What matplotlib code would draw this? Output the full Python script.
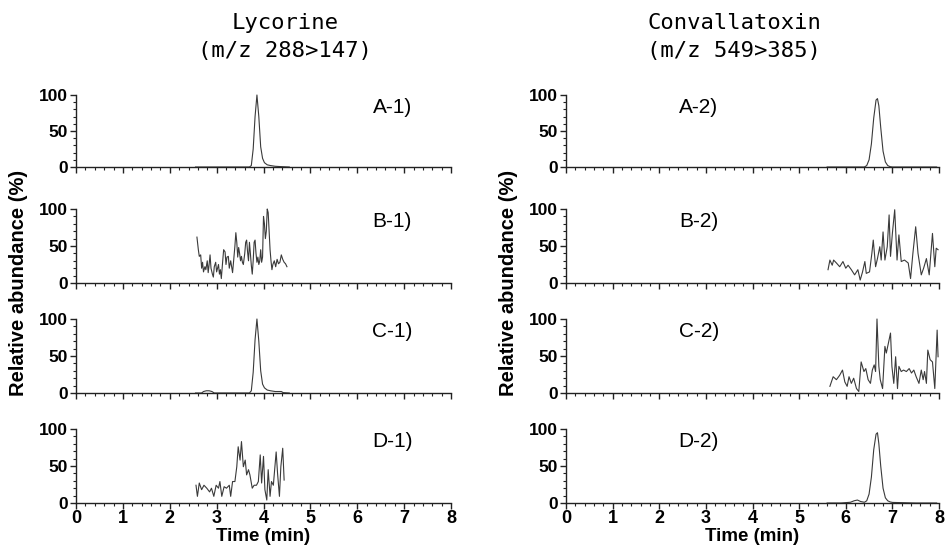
import matplotlib
matplotlib.use("Agg")
import matplotlib.pyplot as plt
from matplotlib.ticker import MultipleLocator

# ---------------- data ----------------
titles = ["Lycorine\n(m/z 288>147)", "Convallatoxin\n(m/z 549>385)"]
panel_labels = [["A-1)", "B-1)", "C-1)", "D-1)"], ["A-2)", "B-2)", "C-2)", "D-2)"]]
x_ticks = [0, 1, 2, 3, 4, 5, 6, 7, 8]
y_ticks = [0, 50, 100]

A1_t = [2.55, 3.20, 3.70, 3.74, 3.78, 3.82, 3.86, 3.90, 3.94, 3.98, 4.02, 4.08, 4.15, 4.25, 4.38, 4.55]
A1_y = [0, 0, 0, 2, 25, 70, 100, 70, 28, 12, 6, 3, 2, 1, 0.5, 0]

B1_t = [2.58, 2.61, 2.63, 2.66, 2.68, 2.70, 2.72, 2.75, 2.77, 2.80, 2.82, 2.84, 2.86, 2.88, 2.91,
        2.93, 2.95, 2.98, 3.00, 3.02, 3.04, 3.06, 3.08, 3.10, 3.13, 3.15, 3.18, 3.20, 3.22, 3.25,
        3.27, 3.30, 3.32, 3.34, 3.36, 3.39, 3.41, 3.43, 3.45, 3.47, 3.49, 3.51, 3.53, 3.55, 3.57,
        3.60, 3.62, 3.64, 3.66, 3.68, 3.70, 3.72, 3.74, 3.76, 3.78, 3.80, 3.82, 3.84, 3.86, 3.88,
        3.90, 3.92, 3.94, 3.96, 3.98, 4.00, 4.02, 4.04, 4.06, 4.08, 4.10, 4.12, 4.14, 4.16, 4.18,
        4.20, 4.23, 4.26, 4.29, 4.32, 4.35, 4.38, 4.41, 4.44, 4.47, 4.50]
B1_y = [62, 45, 36, 38, 20, 28, 15, 22, 18, 30, 14, 25, 38, 20, 12,
        8, 22, 28, 15, 20, 25, 12, 18, 6, 30, 45, 42, 25, 35, 36,
        20, 30, 22, 14, 28, 50, 68, 55, 35, 48, 40, 30, 36, 28, 25,
        40, 55, 58, 42, 30, 55, 40, 24, 12, 30, 55, 58, 40, 28, 35,
        25, 30, 45, 28, 35, 90, 80, 60, 70, 100, 95, 70, 45, 30, 18,
        25, 30, 22, 32, 26, 28, 38, 32, 28, 26, 22]

C1_t = [2.55, 2.68, 2.72, 2.78, 2.84, 2.90, 2.95, 3.70, 3.74, 3.78, 3.82, 3.86, 3.90, 3.94, 3.98,
        4.02, 4.08, 4.15, 4.25, 4.38, 4.42, 4.55]
C1_y = [0, 0, 2, 3, 3, 2, 0, 0, 3, 28, 72, 100, 70, 30, 12, 7, 4, 3, 2, 2, 0.5, 0]

D1_t = [2.56, 2.59, 2.63, 2.68, 2.73, 2.79, 2.85, 2.89, 2.94, 2.99, 3.04, 3.07, 3.11, 3.16, 3.21,
        3.27, 3.30, 3.34, 3.39, 3.43, 3.46, 3.50, 3.53, 3.57, 3.61, 3.64, 3.68, 3.71, 3.76, 3.80,
        3.85, 3.89, 3.93, 3.96, 4.00, 4.03, 4.07, 4.10, 4.14, 4.17, 4.21, 4.27, 4.30, 4.34, 4.37,
        4.41, 4.44]
D1_y = [24, 9, 27, 18, 24, 20, 15, 20, 9, 24, 20, 29, 9, 22, 20,
        24, 9, 29, 29, 49, 76, 58, 83, 49, 58, 38, 45, 38, 20, 24,
        24, 29, 65, 27, 63, 18, 4, 45, 9, 29, 24, 69, 40, 9, 49,
        74, 31]

A2_t = [5.60, 6.20, 6.40, 6.45, 6.50, 6.55, 6.60, 6.65, 6.68, 6.71, 6.75, 6.80, 6.85, 6.90, 6.95, 7.00, 7.50, 7.95]
A2_y = [0, 0, 0, 2, 10, 32, 68, 93, 95, 85, 55, 22, 7, 2, 0.5, 0, 0, 0]

B2_t = [5.62, 5.66, 5.71, 5.74, 5.80, 5.87, 5.94, 6.00, 6.05, 6.12, 6.19, 6.26, 6.31, 6.36, 6.41,
        6.44, 6.51, 6.56, 6.59, 6.64, 6.68, 6.73, 6.76, 6.80, 6.84, 6.89, 6.93, 6.96, 7.00, 7.05,
        7.10, 7.14, 7.19, 7.26, 7.34, 7.39, 7.44, 7.50, 7.55, 7.62, 7.67, 7.73, 7.79, 7.86, 7.91,
        7.94, 7.98]
B2_y = [18, 31, 24, 31, 27, 22, 29, 20, 24, 18, 11, 18, 4, 15, 29,
        13, 15, 40, 58, 22, 33, 49, 31, 69, 31, 49, 92, 36, 67, 99,
        31, 65, 29, 31, 27, 6, 40, 76, 40, 11, 20, 33, 11, 67, 22,
        47, 45]

C2_t = [5.66, 5.73, 5.80, 5.87, 5.93, 5.98, 6.03, 6.07, 6.12, 6.17, 6.23, 6.28, 6.33, 6.39, 6.43,
        6.48, 6.53, 6.57, 6.61, 6.64, 6.67, 6.71, 6.74, 6.79, 6.84, 6.87, 6.93, 6.96, 6.99, 7.03,
        7.07, 7.11, 7.14, 7.19, 7.24, 7.30, 7.36, 7.41, 7.46, 7.51, 7.57, 7.62, 7.66, 7.69, 7.73,
        7.76, 7.81, 7.86, 7.91, 7.96, 7.98]
C2_y = [9, 22, 18, 24, 31, 15, 9, 22, 13, 20, 6, 2, 42, 29, 33,
        18, 13, 31, 38, 29, 100, 36, 18, 6, 63, 54, 72, 81, 36, 13,
        49, 6, 36, 29, 31, 29, 33, 27, 31, 22, 13, 31, 18, 29, 13,
        58, 45, 42, 6, 85, 49]

D2_t = [5.60, 5.90, 6.10, 6.18, 6.25, 6.32, 6.40, 6.45, 6.50, 6.55, 6.60, 6.65, 6.68, 6.71, 6.75,
        6.80, 6.85, 6.90, 6.95, 7.00, 7.50, 7.95]
D2_y = [0, 0, 1, 3, 4, 2, 1, 3, 12, 35, 72, 93, 95, 80, 50, 20, 7, 3, 1.5, 0.8, 0, 0]

series = [[(A1_t, A1_y), (B1_t, B1_y), (C1_t, C1_y), (D1_t, D1_y)],
          [(A2_t, A2_y), (B2_t, B2_y), (C2_t, C2_y), (D2_t, D2_y)]]

# ---------------- layout ----------------
W, H = 946, 547
fig = plt.figure(figsize=(W / 100, H / 100), dpi=100)

col_px = [(76, 451), (566, 939)]
row_px = [(95, 167), (209, 283), (319, 393), (429, 503)]
label_pos = [(6.75, 83), (2.85, 83)]
title_x = [285, 734]
ylabel_x = [19, 508]

for c in range(2):
    x0, x1 = col_px[c]
    for r in range(4):
        yt, yb = row_px[r]
        ax = fig.add_axes([x0 / W, 1 - yb / H, (x1 - x0) / W, (yb - yt) / H])
        t, y = series[c][r]
        ax.plot(t, y, color="#3a3a3a", lw=0.8, clip_on=False)
        ax.set_xlim(0, 8)
        ax.set_ylim(0, 100)
        for s in ("top", "right"):
            ax.spines[s].set_visible(False)
        for s in ("left", "bottom"):
            ax.spines[s].set_linewidth(1.0)
            ax.spines[s].set_color("#222222")
        ax.set_yticks(y_ticks)
        ax.set_xticks(x_ticks)
        ax.yaxis.set_minor_locator(MultipleLocator(10))
        ax.xaxis.set_minor_locator(MultipleLocator(0.2))
        ax.tick_params(axis="both", which="major", length=4, width=1, color="#222222")
        ax.tick_params(axis="both", which="minor", length=2, width=0.8, color="#222222")
        ax.tick_params(axis="y", which="major", pad=2, labelsize=12.5)
        ax.tick_params(axis="x", which="major", pad=1, labelsize=13)
        for lab in ax.get_yticklabels():
            lab.set_fontweight("bold")
            lab.set_family("Liberation Sans")
        if r < 3:
            ax.set_xticklabels([])
        else:
            for lab in ax.get_xticklabels():
                lab.set_fontweight("bold")
                lab.set_family("Liberation Sans")
            ax.set_xlabel("Time (min)", fontsize=13.5, fontweight="bold",
                          family="Liberation Sans", labelpad=1)
        ax.text(label_pos[c][0], label_pos[c][1], panel_labels[c][r], fontsize=15,
                family="Liberation Sans", ha="center", va="center")

    fig.text(title_x[c] / W, 1 - 37 / H, titles[c], ha="center", va="center",
             fontsize=16, family="DejaVu Sans Mono", linespacing=1.55)
    fig.text(ylabel_x[c] / W, 1 - 283 / H, "Relative abundance (%)", rotation=90,
             ha="center", va="center", fontsize=14.5, fontweight="bold",
             family="Liberation Sans")

fig.savefig("out.png", dpi=100)
